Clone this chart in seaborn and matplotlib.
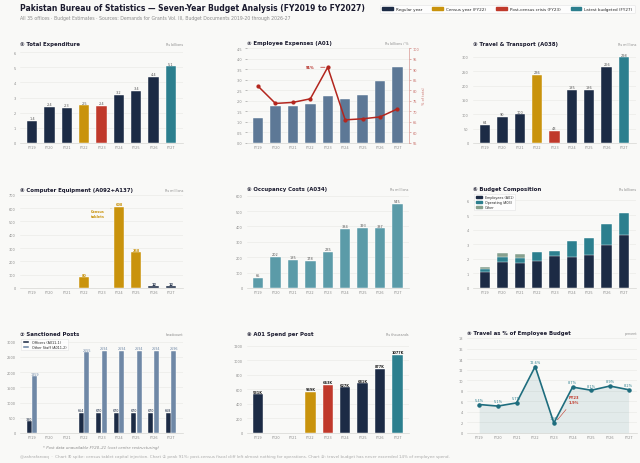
import numpy as np
import pandas as pd
import matplotlib
matplotlib.use("Agg")
import matplotlib.pyplot as plt
from matplotlib.patches import Patch
import seaborn as sns

# data
years = ["FY19", "FY20", "FY21", "FY22", "FY23", "FY24", "FY25", "FY26", "FY27"]
total_exp = [1.44, 2.38, 2.33, 2.49, 2.44, 3.18, 3.42, 4.37, 5.06]
emp_exp = [1.18, 1.76, 1.74, 1.87, 2.22, 2.10, 2.28, 2.94, 3.60]
emp_pct = [82.0, 73.8, 74.3, 76.0, 91.0, 66.0, 66.5, 67.4, 71.2]
travel = [64, 90, 100, 236, 43, 185, 186, 266, 298]
computer = [0, 2, 2, 80, 0, 608, 268, 12, 12]
occupancy = [65, 202, 185, 178, 235, 384, 393, 387, 545]
comp_emp = [1.13, 1.75, 1.72, 1.87, 2.22, 2.10, 2.28, 2.92, 3.60]
comp_ops = [0.20, 0.35, 0.35, 0.60, 0.32, 1.10, 1.13, 1.45, 1.55]
comp_other = [0.10, 0.30, 0.28, 0.03, 0.01, 0.01, 0.02, 0.01, 0.02]
officers = [380, np.nan, np.nan, 664, 670, 670, 670, 670, 668]
other_staff = [1859, np.nan, np.nan, 2655, 2694, 2694, 2694, 2694, 2696]
per_post = [531, np.nan, np.nan, 569, 663, 627, 681, 877, 1077]
travel_pct = [5.4, 5.1, 5.7, 12.6, 1.9, 8.7, 8.1, 8.9, 8.2]

NAVY = "#1c2b45"
GOLD = "#c9930c"
RED = "#c0392b"
TEAL = "#2c7f8e"
STEEL = "#5d7896"
OCC = "#5b9ba8"
SAGE = "#87a08e"
STAFF = "#6f88a6"
GREY = "#8a8a8a"
BG = "#f9f9f7"

year_colors = {y: NAVY for y in years}
year_colors["FY22"] = GOLD
year_colors["FY23"] = RED
year_colors["FY27"] = TEAL

sns.set_theme(style="whitegrid")
plt.rcParams["font.family"] = ["DejaVu Sans"]
plt.rcParams["axes.facecolor"] = BG
plt.rcParams["figure.facecolor"] = BG
plt.rcParams["grid.color"] = "#ebebe8"
plt.rcParams["grid.linewidth"] = 0.5

TICK = 2.5
LAB = 2.5
TITLE = 3.9

fig = plt.figure(figsize=(6.4, 4.64), dpi=100)


def box(l, t, r, b):
    return fig.add_axes([l / 640, 1 - b / 464, (r - l) / 640, (b - t) / 464])


def style(ax, title, unit, num):
    ax.set_xlabel("")
    ax.set_ylabel("")
    ax.grid(axis="x", visible=False)
    ax.grid(axis="y", visible=True)
    for s in ["top", "right", "left"]:
        ax.spines[s].set_visible(False)
    ax.spines["bottom"].set_color("#d6d6d2")
    ax.spines["bottom"].set_linewidth(0.5)
    ax.tick_params(axis="both", labelsize=TICK, colors=GREY, length=1.5, width=0.4, pad=1.5)
    ax.tick_params(axis="x", length=0)
    ax.set_title(num + " " + title, loc="left", fontsize=TITLE, fontweight="bold",
                 color="#1a1a2e", pad=3)
    ax.text(1.0, 1.03, unit, transform=ax.transAxes, ha="right", va="bottom",
            fontsize=2.4, color=GREY)


def colored_bars(ax, vals, palette):
    sns.barplot(x=years, y=vals, hue=years, order=years, hue_order=years,
                palette=palette, legend=False, saturation=1, width=0.6,
                edgecolor="white", linewidth=0.3, ax=ax)


def label_bars(ax, fmt, color_fn=lambda b: "#555555", bold=False, size=LAB, skip_below=None):
    for cont in ax.containers:
        for bar in cont:
            if bar is None:
                continue
            h = bar.get_height()
            if np.isnan(h) or (skip_below is not None and h < skip_below):
                continue
            ax.annotate(fmt(h), (bar.get_x() + bar.get_width() / 2, h),
                        xytext=(0, 0.5), textcoords="offset points", ha="center",
                        va="bottom", fontsize=size, color=color_fn(bar),
                        fontweight="bold" if bold else "normal")


# ① Total Expenditure
ax1 = box(19.8, 50, 183.2, 144)
colored_bars(ax1, total_exp, year_colors)
label_bars(ax1, lambda h: f"{h:.1f}")
ax1.set_ylim(0, 6.2)
ax1.set_yticks(range(0, 7))
ax1.set_xlim(-0.7, 8.7)
style(ax1, "Total Expenditure", "Rs billions", "\u2460")

# ② Employee Expenses
ax2 = box(246.7, 49.3, 408.8, 144)
colored_bars(ax2, emp_exp, {y: STEEL for y in years})
ax2.set_ylim(0, 4.5)
ax2.set_yticks(np.arange(0, 4.6, 0.5))
ax2.yaxis.set_major_formatter(matplotlib.ticker.FormatStrFormatter("%.1f"))
style(ax2, "Employee Expenses (A01)", "Rs billions / %", "\u2461")
ax2r = ax2.twinx()
sns.pointplot(x=years, y=emp_pct, color="#b3261e", markers="o", markersize=2.2,
              linewidth=1.1, ax=ax2r)
ax2r.set_ylim(55, 100)
ax2r.set_yticks(range(55, 101, 5))
ax2r.grid(False)
for s in ["top", "left", "bottom"]:
    ax2r.spines[s].set_visible(False)
ax2r.spines["right"].set_color("#d99a95")
ax2r.spines["right"].set_linewidth(0.5)
ax2r.tick_params(axis="y", labelsize=TICK, colors="#c9706a", length=1.5, width=0.4, pad=1.5)
ax2r.set_ylabel("% of total", fontsize=LAB, color="#c9706a", labelpad=2)
ax2r.annotate("91%", xy=(4, 91), xytext=(3.0, 91), fontsize=LAB * 1.05, color="#b3261e",
              fontweight="bold", ha="center", va="center",
              arrowprops=dict(arrowstyle="-", color="#b3261e", lw=0.5))
ax2.set_xlim(-0.65, 8.65)
ax2r.set_xlim(-0.65, 8.65)

# ③ Travel & Transport
ax3 = box(472.8, 50, 636.2, 144)
colored_bars(ax3, travel, year_colors)
label_bars(ax3, lambda h: f"{h:.0f}")
ax3.set_ylim(0, 327)
ax3.set_yticks(range(0, 301, 50))
ax3.set_xlim(-0.7, 8.7)
style(ax3, "Travel & Transport (A038)", "Rs millions", "\u2462")

# ④ Computer Equipment
comp_colors = {y: NAVY for y in years}
for y in ["FY22", "FY24", "FY25"]:
    comp_colors[y] = GOLD
ax4 = box(19.8, 195.7, 183.2, 289)
colored_bars(ax4, computer, comp_colors)
label_bars(ax4, lambda h: f"{h:.0f}", color_fn=lambda b: b.get_facecolor(), bold=True,
           skip_below=10)
ax4.annotate("Census\ntablets", xy=(4.7, 606), xytext=(3.8, 560), fontsize=LAB,
             color=GOLD, fontweight="bold", ha="center", va="center",
             arrowprops=dict(arrowstyle="-", color=GOLD, lw=0.4))
ax4.set_ylim(0, 700)
ax4.set_yticks(range(0, 701, 100))
ax4.set_xlim(-0.7, 8.7)
style(ax4, "Computer Equipment (A092+A137)", "Rs millions", "\u2463")

# ⑤ Occupancy Costs
ax5 = box(246.7, 195, 408.8, 289)
colored_bars(ax5, occupancy, {y: OCC for y in years})
label_bars(ax5, lambda h: f"{h:.0f}")
ax5.set_ylim(0, 611)
ax5.set_yticks(range(0, 601, 100))
ax5.set_xlim(-0.65, 8.65)
style(ax5, "Occupancy Costs (A034)", "Rs millions", "\u2464")

# ⑥ Budget Composition
ax6 = box(472.8, 195, 636.2, 289)
tot_all = [a + b + c for a, b, c in zip(comp_emp, comp_ops, comp_other)]
emp_ops = [a + b for a, b in zip(comp_emp, comp_ops)]
for vals, col in [(tot_all, SAGE), (emp_ops, TEAL), (comp_emp, NAVY)]:
    sns.barplot(x=years, y=vals, order=years, color=col, saturation=1, width=0.6,
                edgecolor="white", linewidth=0.3, ax=ax6)
ax6.set_ylim(0, 6.44)
ax6.set_yticks(range(0, 7))
ax6.set_xlim(-0.7, 8.7)
style(ax6, "Budget Composition", "Rs billions", "\u2465")
ax6.legend(handles=[Patch(color=NAVY, label="Employees (A01)"),
                    Patch(color=TEAL, label="Operating (A03)"),
                    Patch(color=SAGE, label="Other")],
           loc="upper left", fontsize=2.4, frameon=True, facecolor="white",
           edgecolor="#dddddd", handlelength=2, handleheight=0.6, borderpad=0.4,
           labelspacing=0.3, bbox_to_anchor=(0.0, 1.02)).get_frame().set_linewidth(0.4)

# ⑦ Sanctioned Posts
posts = pd.DataFrame({
    "year": years * 2,
    "count": officers + other_staff,
    "type": ["Officers (A011-1)"] * 9 + ["Other Staff (A011-2)"] * 9,
})
ax7 = box(19.8, 340, 183.2, 434)
sns.barplot(data=posts, x="year", y="count", hue="type", order=years,
            palette=[NAVY, STAFF], saturation=1, width=0.65, gap=0.12,
            edgecolor="white", linewidth=0.3, ax=ax7)
label_bars(ax7, lambda h: f"{h:.0f}",
           color_fn=lambda b: NAVY if b.get_height() < 1000 else STAFF,
           size=2.4)
ax7.set_ylim(0, 3090)
ax7.set_yticks(range(0, 3001, 500))
ax7.set_xlim(-0.7, 8.7)
style(ax7, "Sanctioned Posts", "headcount", "\u2466")
ax7.legend(loc="upper left", fontsize=2.4, frameon=True, facecolor="white",
           edgecolor="#dddddd", handlelength=2, handleheight=0.6, borderpad=0.4,
           labelspacing=0.3, bbox_to_anchor=(0.0, 1.02)).get_frame().set_linewidth(0.4)
ax7.text(0.5, -0.13, "* Post data unavailable FY20\u201321 (cost centre restructuring)",
         transform=ax7.transAxes, ha="center", va="top", fontsize=2.8,
         color=GREY, style="italic")

# ⑧ A01 Spend per Post
ax8 = box(246.7, 340, 408.8, 434)
colored_bars(ax8, per_post, year_colors)
label_bars(ax8, lambda h: f"{h:.0f}K", color_fn=lambda b: "#222222", bold=True)
ax8.set_ylim(0, 1292)
ax8.set_yticks(range(0, 1201, 200))
ax8.set_xlim(-0.65, 8.65)
style(ax8, "A01 Spend per Post", "Rs thousands", "\u2467")

# ⑨ Travel as % of Employee Budget
ax9 = box(467, 339, 637, 434)
ax9.fill_between(range(len(years)), travel_pct, color="#1e6d7e", alpha=0.1, lw=0)
for i, v in enumerate(travel_pct):
    ax9.text(i, v + 0.5, f"{v:.1f}%", ha="center", va="bottom", fontsize=LAB,
             color="#2c7f8e")
sns.pointplot(x=years, y=travel_pct, color="#1e6d7e", markers="o", markersize=2.3,
              linewidth=1.2, ax=ax9)
ax9.annotate("FY23\n1.9%", xy=(4.1, 2.1), xytext=(4.8, 6.3), fontsize=2.7,
             color=RED, fontweight="bold", ha="left", va="center",
             arrowprops=dict(arrowstyle="-", color=RED, lw=0.4))
ax9.set_ylim(0, 18)
ax9.set_yticks(range(0, 19, 2))
ax9.set_xlim(-0.65, 8.45)
style(ax9, "Travel as % of Employee Budget", "percent", "\u2468")

# header
fig.text(20 / 640, 1 - 8.5 / 464,
         "Pakistan Bureau of Statistics \u2014 Seven-Year Budget Analysis (FY2019 to FY2027)",
         fontsize=5.5, fontweight="bold", color="#1a1a2e", va="center")
fig.text(20 / 640, 1 - 18.5 / 464,
         "All 35 offices \u00b7 Budget Estimates \u00b7 Sources: Demands for Grants Vol. III, "
         "Budget Documents 2019-20 through 2026-27",
         fontsize=3.3, color=GREY, va="center")
leg = fig.legend(handles=[Patch(color=NAVY, label="Regular year"),
                          Patch(color=GOLD, label="Census year (FY22)"),
                          Patch(color=RED, label="Post-census crisis (FY23)"),
                          Patch(color=TEAL, label="Latest budgeted (FY27)")],
                 loc="center right", bbox_to_anchor=(0.995, 1 - 10 / 464), ncol=4,
                 fontsize=3.0, frameon=True, facecolor="white", edgecolor="#dddddd",
                 handlelength=2.5, handleheight=0.6, columnspacing=2.4, borderpad=0.5)
leg.get_frame().set_linewidth(0.4)

fig.text(20 / 640, 1 - 457 / 464,
         "@zahrafarooq  \u00b7  Chart \u2463 spike: census tablet capital injection. "
         "Chart \u2461 peak 91%: post-census fiscal cliff left almost nothing for operations. "
         "Chart \u2468: travel budget has never exceeded 14% of employee spend.",
         fontsize=2.95, color="#aaaaaa", va="center")

fig.savefig("out.png", dpi=100, facecolor=BG)
